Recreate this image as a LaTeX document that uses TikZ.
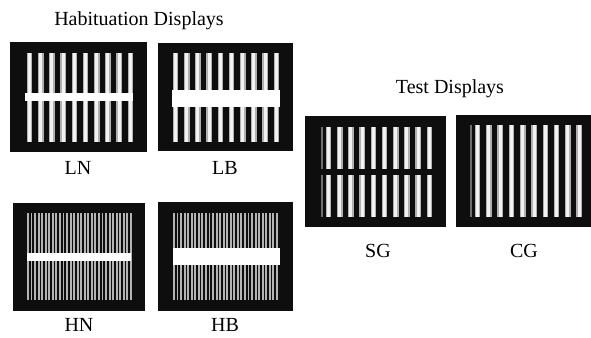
\documentclass[tikz,border=0pt]{standalone}
\usepackage{fontspec}
\setmainfont{Liberation Serif}
\definecolor{boxblack}{HTML}{0E0E0E}
\definecolor{barouter}{HTML}{B0B0B0}
\definecolor{barinner}{HTML}{F2F2F2}
\definecolor{finebar}{HTML}{B4B4B4}
\tikzset{
  display/.style={fill=boxblack},
  lbarout/.style={fill=barouter},
  lbarin/.style={fill=barinner},
  hbar/.style={fill=finebar},
  strip/.style={fill=white},
  lbl/.style={font=\fontsize{20}{24}\selectfont, inner sep=0pt},
}
% low-frequency grating: x0, ytop, ybottom, pitch
\newcommand{\lowgrating}[4]{%
  \foreach \i in {0,...,9}{%
    \fill[lbarout] ({#1+\i*#4-0.3},#2) rectangle ({#1+\i*#4+5.3},#3);
    \fill[lbarin] ({#1+\i*#4+1},#2) rectangle ({#1+\i*#4+4},#3);
  }}
% high-frequency grating: x0, ytop, ybottom
\newcommand{\highgrating}[3]{%
  \foreach \i in {0,...,29}{%
    \fill[hbar] ({#1+\i*3.55},#2) rectangle ({#1+\i*3.55+1.9},#3);
  }}
\begin{document}
\begin{tikzpicture}[x=1pt,y=-1pt]
\useasboundingbox[fill=white] (0,0) rectangle (591,337);
% titles
\node[lbl] (habtitle) at (139,21) {Habituation Displays};
\node[lbl] (testtitle) at (450,89) {Test Displays};
% LN
\fill[display] (10,42) rectangle (147,152);
\lowgrating{27}{53}{142}{11.2}
\fill[strip] (25,93) rectangle (133,101);
\node[lbl] (LN) at (78,168) {LN};
% LB
\fill[display] (158,43) rectangle (293,151);
\lowgrating{173}{53}{142}{11.2}
\fill[strip] (172,90) rectangle (280,107);
\node[lbl] (LB) at (225,168) {LB};
% HN
\fill[display] (13,203) rectangle (145,311);
\highgrating{27}{213}{300}
\fill[strip] (27,253) rectangle (131,261);
\node[lbl] (HN) at (79,325) {HN};
% HB
\fill[display] (158,202) rectangle (293,311);
\highgrating{173}{213}{300}
\fill[strip] (173,248) rectangle (280,265);
\node[lbl] (HB) at (225,325) {HB};
% SG
\fill[display] (305,116) rectangle (446,227);
\fill[barouter!60!boxblack] (321,127) rectangle (323,169);
\fill[barouter!60!boxblack] (321,175) rectangle (323,217);
\lowgrating{326}{127}{169}{11.2}
\lowgrating{326}{175}{217}{11.2}
\node[lbl] (SG) at (378,251) {SG};
% CG
\fill[display] (456,115) rectangle (591,227);
\fill[barouter!60!boxblack] (470,125) rectangle (472,217);
\lowgrating{475}{125}{217}{11.3}
\node[lbl] (CG) at (524,251) {CG};
\end{tikzpicture}
\end{document}
